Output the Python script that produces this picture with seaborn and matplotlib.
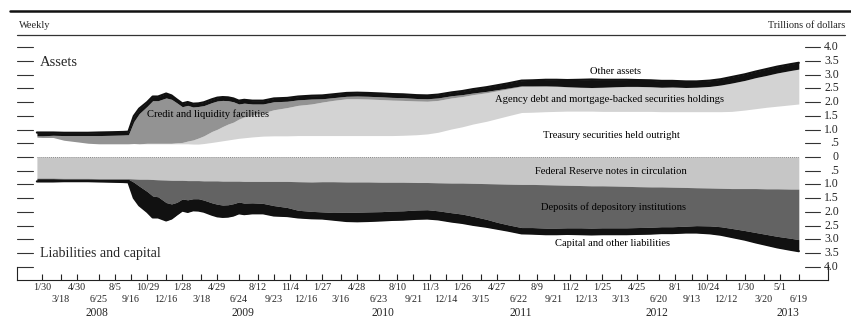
import matplotlib
matplotlib.use("Agg")
import matplotlib.pyplot as plt
import matplotlib.dates as mdates
from matplotlib.lines import Line2D
import numpy as np
import pandas as pd
import seaborn as sns

# Observation dates (Wednesdays), trillions of dollars
obs_dates = [
    "2008-01-16", "2008-01-30", "2008-02-27", "2008-03-26", "2008-04-30", "2008-05-28",
    "2008-06-25", "2008-07-30", "2008-08-27", "2008-09-10", "2008-09-24", "2008-10-08",
    "2008-10-29", "2008-11-12", "2008-11-26", "2008-12-17", "2008-12-31", "2009-01-14",
    "2009-01-28", "2009-02-11", "2009-02-25", "2009-03-11", "2009-03-25", "2009-04-15",
    "2009-04-29", "2009-05-13", "2009-05-27", "2009-06-10", "2009-06-24", "2009-07-08",
    "2009-07-29", "2009-08-26", "2009-09-23", "2009-10-28", "2009-11-25", "2009-12-30",
    "2010-01-27", "2010-02-24", "2010-03-31", "2010-04-28", "2010-05-26", "2010-06-30",
    "2010-07-28", "2010-08-25", "2010-09-29", "2010-10-27", "2010-11-24", "2010-12-29",
    "2011-01-26", "2011-02-23", "2011-03-30", "2011-04-27", "2011-05-25", "2011-06-29",
    "2011-07-27", "2011-08-31", "2011-09-28", "2011-10-26", "2011-11-30", "2011-12-28",
    "2012-01-25", "2012-02-29", "2012-03-28", "2012-04-25", "2012-05-30", "2012-06-27",
    "2012-07-25", "2012-08-29", "2012-09-26", "2012-10-31", "2012-11-28", "2012-12-26",
    "2013-01-30", "2013-02-27", "2013-03-27", "2013-04-24", "2013-05-29", "2013-06-19",
]

# Assets
treasury = [
    0.72, 0.71, 0.71, 0.61, 0.55, 0.50, 0.48, 0.48, 0.48, 0.48, 0.49, 0.48,
    0.48, 0.48, 0.48, 0.48, 0.48, 0.48, 0.48, 0.48, 0.47, 0.47, 0.49, 0.53,
    0.56, 0.59, 0.62, 0.65, 0.68, 0.70, 0.73, 0.76, 0.77, 0.77, 0.78, 0.78,
    0.78, 0.78, 0.78, 0.78, 0.78, 0.78, 0.78, 0.79, 0.81, 0.84, 0.90, 1.02,
    1.10, 1.20, 1.30, 1.40, 1.50, 1.62, 1.63, 1.65, 1.66, 1.67, 1.67, 1.67,
    1.66, 1.66, 1.66, 1.66, 1.66, 1.65, 1.65, 1.65, 1.65, 1.65, 1.65, 1.66,
    1.71, 1.76, 1.81, 1.85, 1.90, 1.93,
]
agency = [
    0.00, 0.00, 0.00, 0.00, 0.00, 0.00, 0.00, 0.00, 0.00, 0.00, 0.00, 0.00,
    0.02, 0.02, 0.02, 0.02, 0.02, 0.04, 0.05, 0.10, 0.15, 0.22, 0.28, 0.40,
    0.45, 0.52, 0.58, 0.62, 0.70, 0.76, 0.80, 0.85, 0.95, 1.03, 1.10, 1.15,
    1.22, 1.28, 1.34, 1.34, 1.33, 1.31, 1.29, 1.27, 1.23, 1.19, 1.16, 1.13,
    1.10, 1.07, 1.04, 1.01, 0.98, 0.95, 0.94, 0.93, 0.91, 0.88, 0.86, 0.85,
    0.87, 0.89, 0.90, 0.90, 0.89, 0.88, 0.89, 0.88, 0.89, 0.92, 0.97, 1.03,
    1.08, 1.13, 1.16, 1.21, 1.25, 1.27,
]
credit = [
    0.05, 0.06, 0.08, 0.17, 0.23, 0.28, 0.30, 0.31, 0.32, 0.33, 0.80, 1.10,
    1.35, 1.55, 1.55, 1.65, 1.60, 1.45, 1.30, 1.30, 1.20, 1.15, 1.10, 1.05,
    1.03, 0.95, 0.85, 0.74, 0.55, 0.50, 0.40, 0.32, 0.29, 0.23, 0.20, 0.18,
    0.12, 0.10, 0.09, 0.10, 0.10, 0.10, 0.10, 0.10, 0.09, 0.09, 0.09, 0.08,
    0.07, 0.06, 0.05, 0.04, 0.03, 0.02, 0.02, 0.01, 0.01, 0.01, 0.01, 0.01,
    0.01, 0.01, 0.01, 0.01, 0.01, 0.01, 0.01, 0.00, 0.00, 0.00, 0.00, 0.00,
    0.00, 0.00, 0.00, 0.00, 0.00, 0.00,
]
other_assets = [
    0.12, 0.12, 0.10, 0.10, 0.10, 0.10, 0.11, 0.11, 0.11, 0.11, 0.20, 0.18,
    0.15, 0.15, 0.15, 0.16, 0.14, 0.12, 0.12, 0.12, 0.12, 0.11, 0.12, 0.12,
    0.12, 0.12, 0.12, 0.12, 0.12, 0.12, 0.12, 0.12, 0.12, 0.12, 0.12, 0.12,
    0.12, 0.12, 0.12, 0.12, 0.12, 0.12, 0.12, 0.12, 0.12, 0.12, 0.12, 0.12,
    0.13, 0.14, 0.15, 0.16, 0.17, 0.19, 0.20, 0.22, 0.23, 0.24, 0.27, 0.29,
    0.27, 0.25, 0.24, 0.23, 0.23, 0.23, 0.22, 0.22, 0.21, 0.21, 0.21, 0.22,
    0.22, 0.22, 0.23, 0.23, 0.23, 0.23,
]

# Liabilities and capital
fr_notes = [
    0.77, 0.77, 0.77, 0.78, 0.78, 0.78, 0.79, 0.79, 0.79, 0.79, 0.80, 0.81,
    0.81, 0.82, 0.83, 0.84, 0.85, 0.85, 0.85, 0.86, 0.86, 0.86, 0.87, 0.87,
    0.87, 0.88, 0.88, 0.88, 0.88, 0.89, 0.89, 0.89, 0.89, 0.89, 0.90, 0.91,
    0.90, 0.90, 0.91, 0.91, 0.91, 0.92, 0.92, 0.92, 0.93, 0.93, 0.94, 0.95,
    0.95, 0.96, 0.97, 0.98, 0.99, 1.00, 1.00, 1.01, 1.02, 1.03, 1.04, 1.05,
    1.05, 1.06, 1.07, 1.08, 1.09, 1.09, 1.10, 1.11, 1.12, 1.13, 1.14, 1.15,
    1.15, 1.15, 1.16, 1.16, 1.17, 1.17,
]
deposits = [
    0.02, 0.02, 0.02, 0.02, 0.02, 0.02, 0.02, 0.02, 0.02, 0.02, 0.12, 0.25,
    0.45, 0.60, 0.62, 0.82, 0.86, 0.80, 0.68, 0.70, 0.66, 0.66, 0.70, 0.80,
    0.85, 0.87, 0.86, 0.82, 0.76, 0.79, 0.78, 0.80, 0.88, 0.95, 1.04, 1.07,
    1.10, 1.12, 1.10, 1.10, 1.09, 1.07, 1.05, 1.04, 1.00, 0.99, 1.02, 1.08,
    1.13, 1.20, 1.30, 1.40, 1.48, 1.57, 1.57, 1.58, 1.57, 1.55, 1.54, 1.54,
    1.53, 1.52, 1.51, 1.49, 1.47, 1.45, 1.44, 1.41, 1.38, 1.38, 1.40, 1.45,
    1.53, 1.60, 1.66, 1.73, 1.79, 1.84,
]
capital_other = [
    0.10, 0.10, 0.10, 0.08, 0.08, 0.08, 0.08, 0.09, 0.10, 0.11, 0.57, 0.70,
    0.74, 0.78, 0.75, 0.65, 0.53, 0.44, 0.42, 0.44, 0.42, 0.43, 0.42, 0.43,
    0.44, 0.43, 0.43, 0.43, 0.41, 0.40, 0.38, 0.36, 0.36, 0.31, 0.26, 0.25,
    0.24, 0.26, 0.32, 0.33, 0.33, 0.32, 0.32, 0.32, 0.32, 0.32, 0.31, 0.32,
    0.32, 0.31, 0.27, 0.23, 0.21, 0.21, 0.22, 0.22, 0.22, 0.22, 0.23, 0.23,
    0.23, 0.23, 0.23, 0.23, 0.23, 0.23, 0.23, 0.23, 0.25, 0.27, 0.29, 0.31,
    0.33, 0.36, 0.38, 0.40, 0.42, 0.42,
]

# FOMC meeting dates used as axis ticks
tick_dates = [
    "2008-01-30", "2008-03-18", "2008-04-30", "2008-06-25", "2008-08-05", "2008-09-16",
    "2008-10-29", "2008-12-16", "2009-01-28", "2009-03-18", "2009-04-29", "2009-06-24",
    "2009-08-12", "2009-09-23", "2009-11-04", "2009-12-16", "2010-01-27", "2010-03-16",
    "2010-04-28", "2010-06-23", "2010-08-10", "2010-09-21", "2010-11-03", "2010-12-14",
    "2011-01-26", "2011-03-15", "2011-04-27", "2011-06-22", "2011-08-09", "2011-09-21",
    "2011-11-02", "2011-12-13", "2012-01-25", "2012-03-13", "2012-04-25", "2012-06-20",
    "2012-08-01", "2012-09-13", "2012-10-24", "2012-12-12", "2013-01-30", "2013-03-20",
    "2013-05-01", "2013-06-19",
]
tick_labels = [
    "1/30", "3/18", "4/30", "6/25", "8/5", "9/16", "10/29", "12/16",
    "1/28", "3/18", "4/29", "6/24", "8/12", "9/23", "11/4", "12/16",
    "1/27", "3/16", "4/28", "6/23", "8/10", "9/21", "11/3", "12/14",
    "1/26", "3/15", "4/27", "6/22", "8/9", "9/21", "11/2", "12/13",
    "1/25", "3/13", "4/25", "6/20", "8/1", "9/13", "10/24", "12/12",
    "1/30", "3/20", "5/1", "6/19",
]
years = ["2008", "2009", "2010", "2011", "2012", "2013"]
year_label_dates = ["2008-06-20", "2009-07-04", "2010-07-04", "2011-06-26", "2012-06-16", "2013-05-22"]

y_levels = [-4.0, -3.5, -3.0, -2.5, -2.0, -1.5, -1.0, -0.5, 0.0,
            0.5, 1.0, 1.5, 2.0, 2.5, 3.0, 3.5, 4.0]
y_level_labels = ["4.0", "3.5", "3.0", "2.5", "2.0", "1.5", "1.0", ".5", "0",
                  ".5", "1.0", "1.5", "2.0", "2.5", "3.0", "3.5", "4.0"]

sns.set_theme(style="white")
plt.rcParams["font.family"] = ["Liberation Serif", "DejaVu Serif"]

AGENCY_C = "#d3d3d3"
CREDIT_C = "#939393"
DARK_C = "#111111"
NOTES_C = "#c6c6c6"
DEPOSIT_C = "#636363"

df = pd.DataFrame({
    "date": pd.to_datetime(obs_dates),
    "treasury": treasury, "agency": agency, "credit": credit, "other": other_assets,
    "notes": fr_notes, "deposits": deposits, "capital": capital_other,
})
df["assets_total"] = df[["treasury", "agency", "credit", "other"]].sum(axis=1)
df["liab_total"] = -df[["notes", "deposits", "capital"]].sum(axis=1)

fig = plt.figure(figsize=(8.51, 3.22), dpi=100)
ax = fig.add_axes([17 / 851, 42 / 322, 811 / 851, 240 / 322])

x = mdates.date2num(df["date"])
ax.stackplot(x, df["treasury"], df["agency"], df["credit"], df["other"],
             colors=["white", AGENCY_C, CREDIT_C, DARK_C], linewidth=0)
ax.stackplot(x, -df["notes"], -df["deposits"], -df["capital"],
             colors=[NOTES_C, DEPOSIT_C, DARK_C], linewidth=0)

# outline of totals
sns.lineplot(x=x, y=df["assets_total"], ax=ax, color=DARK_C, lw=1.6)
sns.lineplot(x=x, y=df["liab_total"], ax=ax, color=DARK_C, lw=1.6)
ax.set_xlabel("")
ax.set_ylabel("")

# zero line
ax.plot([x[0], x[-1]], [0, 0], color="#8a8a8a", lw=0.7, ls=(0, (1, 1)), zorder=5)

x0 = mdates.date2num(pd.Timestamp("2008-01-30"))
px_per_day = 0.3846
ax.set_xlim(x0 - (42.3 - 17) / px_per_day, x0 + (828 - 42.3) / px_per_day)
ax.set_ylim(-4.48, 4.26)

# spines: bottom rule with short end brackets
ax.spines["top"].set_visible(False)
for side in ["left", "right", "bottom"]:
    ax.spines[side].set_color("#222222")
    ax.spines[side].set_linewidth(0.8)
ax.spines["left"].set_bounds(-4.48, -4.0)
ax.spines["right"].set_bounds(-4.48, -3.95)
ax.set_yticks([])

# alternating two-row date labels: upper row on major ticks, lower row on minor ticks
tx = mdates.date2num(pd.to_datetime(tick_dates))
ax.set_xticks(tx[0::2])
ax.set_xticklabels(tick_labels[0::2], fontsize=7.3)
ax.set_xticks(tx[1::2], minor=True)
ax.set_xticklabels(tick_labels[1::2], minor=True, fontsize=7.3)
ax.tick_params(axis="x", which="major", direction="in", length=4, width=0.8,
               color="#222222", pad=2.5, bottom=True)
ax.tick_params(axis="x", which="minor", direction="in", length=4, width=0.8,
               color="#222222", pad=10.5, bottom=True)

yt = ax.get_xaxis_transform()
for yr, d in zip(years, year_label_dates):
    ax.text(mdates.date2num(pd.Timestamp(d)), -0.1375, yr, transform=yt,
            ha="center", va="center", fontsize=8.3)

# scale dashes and labels
ytr = ax.get_yaxis_transform()
for v, lab in zip(y_levels, y_level_labels):
    ax.add_line(Line2D([0, 16 / 811], [v, v], transform=ytr, color="#333333", lw=0.8,
                       clip_on=False))
    ax.add_line(Line2D([(805 - 17) / 811, (820 - 17) / 811], [v, v], transform=ytr,
                       color="#333333", lw=0.8, clip_on=False))
    ax.text((839 - 17) / 811, v, lab, transform=ytr, ha="right", va="center",
            fontsize=8.5)

# section and series labels
def axf(px, py):
    return (px - 17) / 811, (280 - py) / 240

lab_kw = dict(transform=ax.transAxes, va="center", fontsize=7.6, color="black", zorder=6)
ax.text(*axf(40, 62), "Assets", transform=ax.transAxes, va="center", fontsize=10.5)
ax.text(*axf(40, 253), "Liabilities and capital", transform=ax.transAxes, va="center",
        fontsize=10)
ax.text(*axf(147, 114), "Credit and liquidity facilities", ha="left", **lab_kw)
ax.text(*axf(615, 71), "Other assets", ha="center", **lab_kw)
ax.text(*axf(495, 100), "Agency debt and mortgage-backed securities holdings", ha="left",
        **lab_kw)
ax.text(*axf(543, 136), "Treasury securities held outright", ha="left", **lab_kw)
ax.text(*axf(535, 172), "Federal Reserve notes in circulation", ha="left", **lab_kw)
ax.text(*axf(686, 207), "Deposits of depository institutions", ha="right", **lab_kw)
ax.text(*axf(670, 243), "Capital and other liabilities", ha="right", **lab_kw)

# header rules and captions
fig.add_artist(Line2D([10 / 851, 1.0], [1 - 11 / 322, 1 - 11 / 322], color="#111111", lw=1.8))
fig.add_artist(Line2D([17 / 851, 845 / 851], [1 - 35 / 322, 1 - 35 / 322], color="#333333",
                      lw=0.9))
fig.text(19 / 851, 1 - 25 / 322, "Weekly", ha="left", va="center", fontsize=7.5)
fig.text(845 / 851, 1 - 25 / 322, "Trillions of dollars", ha="right", va="center",
         fontsize=7.5)

fig.savefig("out.png", dpi=100, facecolor="white")
